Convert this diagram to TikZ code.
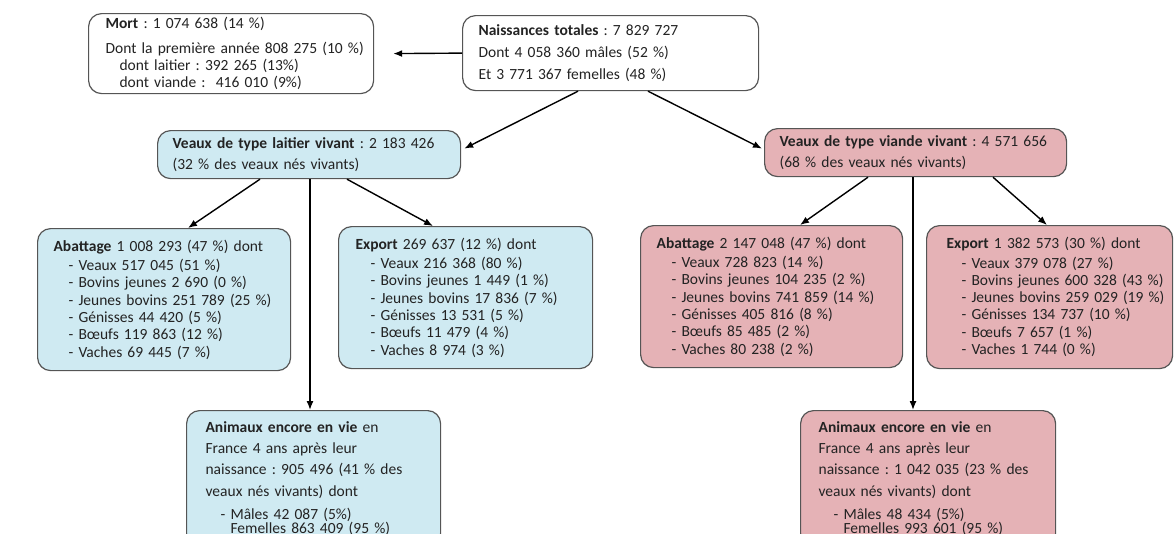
\documentclass[tikz,border=0pt]{standalone}
\usepackage{fontspec}
\setmainfont{Carlito}
\usetikzlibrary{arrows.meta,positioning}
\definecolor{vlbleu}{RGB}{207,234,242}
\definecolor{vlrose}{RGB}{229,178,182}
\definecolor{vlgris}{RGB}{85,85,85}
\definecolor{vltexte}{RGB}{35,35,35}
\newcommand{\tiret}{\hspace*{15pt}- }

\begin{document}
\frenchspacing
\begin{tikzpicture}[x=1pt,y=-1pt,
  boite/.style={draw=vlgris,line width=1.2pt,rounded corners=13pt,anchor=north west,
    align=left,inner ysep=0pt,text=vltexte,font=\fontsize{15.5}{17.3}\selectfont,
    execute at begin node={\rightskip=0pt plus 1fil minus 1000pt}},
  blanc/.style={boite,fill=white},
  bleu/.style={boite,fill=vlbleu},
  rose/.style={boite,fill=vlrose},
  fl/.style={line width=1.4pt,draw=black,-{Latex[length=9pt,width=7pt]}}]
\useasboundingbox (0,0) rectangle (1174,533);
\clip (0,0) rectangle (1174,533);

% en-tete
\node[blanc,minimum width=285,minimum height=80,inner xsep=17,text width=251] (mort) at (88,13)
  {\textbf{Mort} : 1 074 638 (14 \%)\\[7pt]
   Dont la première année 808 275 (10 \%)\\
   \hspace*{14pt}dont laitier : 392 265 (13\%)\\
   \hspace*{14pt}dont viande : \ 416 010 (9\%)};
\node[blanc,minimum width=296,minimum height=75,inner xsep=16,text width=264] (nais) at (462,15)
  {\textbf{Naissances totales} : 7 829 727\\[5pt]
   Dont 4 058 360 mâles (52 \%)\\[5pt]
   Et 3 771 367 femelles (48 \%)};

% veaux vivants
\node[bleu,minimum width=303,minimum height=48,inner xsep=15,text width=273] (lait) at (157,130)
  {\textbf{Veaux de type laitier vivant} : 2 183 426\\[3pt]
   (32 \% des veaux nés vivants)};
\node[rose,minimum width=302,minimum height=48,inner xsep=15,text width=272] (viande) at (764,128)
  {\textbf{Veaux de type viande vivant} : 4 571 656\\[3pt]
   (68 \% des veaux nés vivants)};

% branche laitier
\node[bleu,minimum width=253,minimum height=142,inner xsep=16,text width=221] (abL) at (37,228)
  {\textbf{Abattage} 1 008 293 (47 \%) dont\\[2pt]
   \tiret Veaux 517 045 (51 \%)\\
   \tiret Bovins jeunes 2 690 (0 \%)\\
   \tiret Jeunes bovins 251 789 (25 \%)\\
   \tiret Génisses 44 420 (5 \%)\\
   \tiret Bœufs 119 863 (12 \%)\\
   \tiret Vaches 69 445 (7 \%)};
\node[bleu,minimum width=254,minimum height=142,inner xsep=17,text width=220] (exL) at (338,226)
  {\textbf{Export} 269 637 (12 \%) dont\\[2pt]
   \tiret Veaux 216 368 (80 \%)\\
   \tiret Bovins jeunes 1 449 (1 \%)\\
   \tiret Jeunes bovins 17 836 (7 \%)\\
   \tiret Génisses 13 531 (5 \%)\\
   \tiret Bœufs 11 479 (4 \%)\\
   \tiret Vaches 8 974 (3 \%)};
\node[bleu,minimum width=254,minimum height=136,inner xsep=19,text width=216] (anL) at (186,410)
  {\textbf{Animaux encore en vie} en\\[4pt]
   France 4 ans après leur\\[4pt]
   naissance : 905 496 (41 \% des\\[4pt]
   veaux nés vivants) dont\\[6pt]
   \tiret Mâles 42 087 (5\%)\\[-3pt]
   \hspace*{15pt}\phantom{- }Femelles 863 409 (95 \%)};

% branche viande
\node[rose,minimum width=262,minimum height=142,inner xsep=16,text width=230] (abV) at (640,225)
  {\textbf{Abattage} 2 147 048 (47 \%) dont\\[2pt]
   \tiret Veaux 728 823 (14 \%)\\
   \tiret Bovins jeunes 104 235 (2 \%)\\
   \tiret Jeunes bovins 741 859 (14 \%)\\
   \tiret Génisses 405 816 (8 \%)\\
   \tiret Bœufs 85 485 (2 \%)\\
   \tiret Vaches 80 238 (2 \%)};
\node[rose,minimum width=246,minimum height=143,inner xsep=20,text width=206] (exV) at (926,225)
  {\textbf{Export} 1 382 573 (30 \%) dont\\[2pt]
   \tiret Veaux 379 078 (27 \%)\\
   \tiret Bovins jeunes 600 328 (43 \%)\\
   \tiret Jeunes bovins 259 029 (19 \%)\\
   \tiret Génisses 134 737 (10 \%)\\
   \tiret Bœufs 7 657 (1 \%)\\
   \tiret Vaches 1 744 (0 \%)};
\node[rose,minimum width=255,minimum height=136,inner xsep=18,text width=219] (anV) at (800,410)
  {\textbf{Animaux encore en vie} en\\[4pt]
   France 4 ans après leur\\[4pt]
   naissance : 1 042 035 (23 \% des\\[4pt]
   veaux nés vivants) dont\\[6pt]
   \tiret Mâles 48 434 (5\%)\\[-3pt]
   \hspace*{15pt}\phantom{- }Femelles 993 601 (95 \%)};

% fleches
\draw[fl] (nais.west) -- ([xshift=19pt]mort.east);
\draw[fl] ([xshift=116pt]nais.south west) -- ([yshift=6pt,xshift=3pt]lait.east);
\draw[fl] ([xshift=186pt]nais.south west) -- ([yshift=4pt,xshift=-2pt]viande.west);
\draw[fl] ([xshift=103pt]lait.south west) -- ([xshift=151pt]abL.north west);
\draw[fl] ([xshift=153pt]lait.south west) -- ([xshift=124pt]anL.north west);
\draw[fl] ([xshift=190pt]lait.south west) -- ([xshift=95pt]exL.north west);
\draw[fl] ([xshift=104pt]viande.south west) -- ([xshift=160pt]abV.north west);
\draw[fl] ([xshift=149pt]viande.south west) -- ([xshift=113pt]anV.north west);
\draw[fl] ([xshift=229pt]viande.south west) -- ([xshift=121pt]exV.north west);
\end{tikzpicture}
\end{document}
